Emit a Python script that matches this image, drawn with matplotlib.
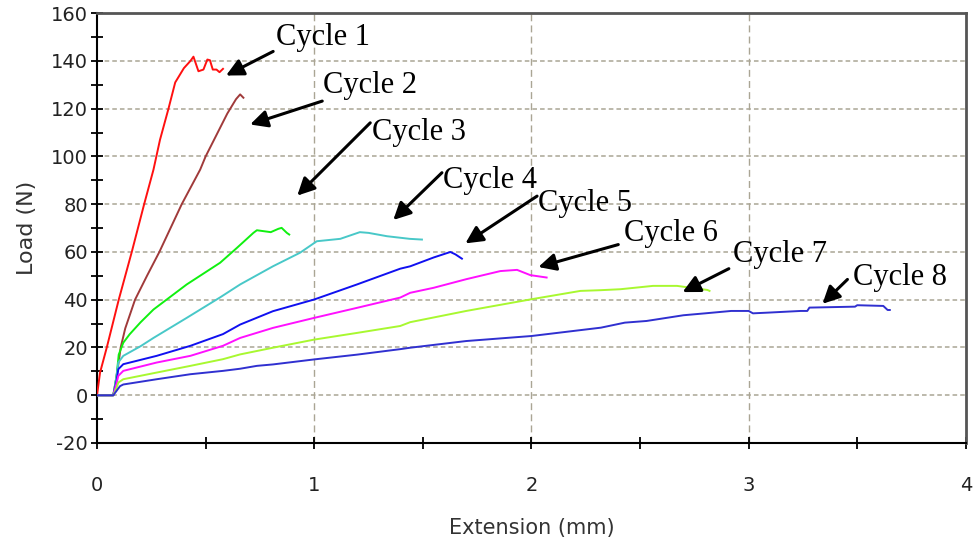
import matplotlib.pyplot as plt
from matplotlib.ticker import MultipleLocator

plt.rcParams['axes.unicode_minus'] = False

# Datos: extension (mm) y carga (N) por ciclo
c1_x = [0, 0.014, 0.045, 0.1, 0.16, 0.217, 0.26, 0.29, 0.329, 0.36, 0.40, 0.43, 0.444,
        0.467, 0.49, 0.508, 0.52, 0.533, 0.55, 0.564, 0.58]
c1_y = [0, 9.5, 20, 40, 60, 80, 94.5, 107, 120, 131, 137, 140, 141.8,
        135.7, 136.4, 140.6, 140.3, 136.4, 136.4, 135.3, 136.7]

c2_x = [0, 0.075, 0.085, 0.1, 0.109, 0.13, 0.175, 0.23, 0.287, 0.39, 0.475, 0.5, 0.6,
        0.64, 0.659, 0.674]
c2_y = [0, 0, 5, 14, 20, 28, 40, 50, 60, 80, 94.5, 100, 118, 124, 126, 124.6]

c3_x = [0, 0.075, 0.09, 0.1, 0.121, 0.15, 0.2, 0.26, 0.413, 0.567, 0.644, 0.72, 0.736,
        0.8, 0.835, 0.85, 0.874, 0.885]
c3_y = [0, 0, 8, 17, 22, 25.5, 30.5, 35.9, 46.4, 55.5, 61.7, 68, 69.1,
        68.3, 69.7, 70.1, 68, 67.3]

c4_x = [0, 0.075, 0.09, 0.098, 0.121, 0.2, 0.26, 0.413, 0.567, 0.659, 0.81, 0.935, 1.012,
        1.12, 1.21, 1.25, 1.335, 1.44, 1.496]
c4_y = [0, 0, 8, 13.7, 16.5, 20.5, 24, 32.4, 41, 46.4, 54, 59.7, 64.5,
        65.5, 68.3, 68, 66.6, 65.5, 65.2]

c5_x = [0, 0.075, 0.09, 0.098, 0.121, 0.275, 0.43, 0.58, 0.659, 0.81, 1.0, 1.197, 1.396,
        1.442, 1.55, 1.627, 1.65, 1.68]
c5_y = [0, 0, 6, 10.9, 13, 16.5, 20.7, 25.6, 29.6, 35.2, 40.1, 46.4, 53,
        54, 57.7, 60, 59, 57.2]

c6_x = [0, 0.075, 0.09, 0.098, 0.121, 0.275, 0.43, 0.58, 0.659, 0.81, 1.0, 1.197, 1.396,
        1.442, 1.55, 1.70, 1.857, 1.934, 1.995, 2.07]
c6_y = [0, 0, 5, 8.1, 10.2, 13.7, 16.5, 20.7, 24, 28.2, 32.4, 36.6, 40.9,
        42.9, 45, 48.6, 52, 52.5, 50.3, 49.3]

c7_x = [0, 0.075, 0.09, 0.098, 0.121, 0.275, 0.43, 0.58, 0.659, 0.81, 1.0, 1.197, 1.396,
        1.442, 1.70, 2.0, 2.226, 2.32, 2.41, 2.56, 2.67, 2.81, 2.82]
c7_y = [0, 0, 3, 5.3, 6.7, 9.5, 12.3, 15.1, 17.1, 19.9, 23.3, 26.1, 29,
        30.6, 35.3, 40.2, 43.7, 44, 44.4, 45.8, 45.8, 44.1, 43.7]

c8_x = [0, 0.075, 0.106, 0.121, 0.275, 0.43, 0.58, 0.659, 0.736, 0.81, 1.0, 1.197, 1.396,
        1.442, 1.70, 2.0, 2.32, 2.43, 2.53, 2.70, 2.80, 2.92, 3.0, 3.02, 3.09, 3.24,
        3.27, 3.28, 3.49, 3.5, 3.62, 3.64, 3.65]
c8_y = [0, 0, 3.8, 4.5, 6.7, 8.8, 10.2, 11.1, 12.3, 12.9, 15, 17, 19.3,
        19.9, 22.7, 24.8, 28.3, 30.4, 31.1, 33.5, 34.3, 35.3, 35.3, 34.3, 34.6, 35.3,
        35.3, 36.7, 37.1, 37.7, 37.4, 35.7, 35.7]

series_x = [c1_x, c2_x, c3_x, c4_x, c5_x, c6_x, c7_x, c8_x]
series_y = [c1_y, c2_y, c3_y, c4_y, c5_y, c6_y, c7_y, c8_y]
colors = ['#ff1010', '#a03a3a', '#10f010', '#48c8c8', '#1010f0', '#ff10ff', '#a8f830', '#3030d0']

labels = ['Cycle 1', 'Cycle 2', 'Cycle 3', 'Cycle 4', 'Cycle 5', 'Cycle 6', 'Cycle 7', 'Cycle 8']
# posicion del texto (izquierda, linea base) y punta / cola de la flecha
label_pos = [(0.825, 146.5), (1.04, 126.4), (1.267, 107.1), (1.594, 86.6),
             (2.032, 77.0), (2.424, 64.4), (2.926, 56.0), (3.479, 46.0)]
arrow_tip = [(0.594, 133.9), (0.705, 113.4), (0.922, 83.6), (1.364, 73.4),
             (1.696, 63.6), (2.032, 53.7), (2.696, 43.2), (3.34, 38.3)]
arrow_tail = [(0.811, 144.0), (1.037, 123.2), (1.258, 114.1), (1.588, 93.2),
              (2.026, 83.4), (2.40, 63.1), (2.909, 53.0), (3.455, 48.5)]

fig = plt.figure(figsize=(9.74, 5.44), dpi=100)
ax = fig.add_axes([0.0996, 0.1857, 0.892, 0.790])

ax.set_xlim(0, 4)
ax.set_ylim(-20, 160)

# rejilla
grid_col = '#aaa594'
for yv in range(0, 160, 20):
    ax.axhline(yv, color=grid_col, lw=1.1, ls=(0, (3, 2)), zorder=1)
for xv in [1, 2, 3]:
    ax.axvline(xv, color=grid_col, lw=1.0, ls=(0, (5, 3)), zorder=1)

for xs, ys, c in zip(series_x, series_y, colors):
    ax.plot(xs, ys, color=c, lw=1.4, zorder=3)

for lab, (tx, ty), tip, tail in zip(labels, label_pos, arrow_tip, arrow_tail):
    ax.text(tx, ty, lab, family='Liberation Serif', fontsize=22, ha='left', va='baseline',
            zorder=5)
    ax.annotate('', xy=tip, xytext=tail,
                arrowprops=dict(arrowstyle='-|>', color='black', lw=2.2,
                                mutation_scale=26, shrinkA=0, shrinkB=0),
                zorder=5)

ax.xaxis.set_major_locator(MultipleLocator(1))
ax.xaxis.set_minor_locator(MultipleLocator(0.5))
ax.yaxis.set_major_locator(MultipleLocator(20))
ax.yaxis.set_minor_locator(MultipleLocator(10))
ax.tick_params(which='both', direction='inout', length=9, width=1.3, color='black')
ax.tick_params(axis='y', labelsize=14, pad=2, labelcolor='#222222')
ax.tick_params(axis='x', labelsize=14, pad=19, labelcolor='#222222')

for s in ['left', 'bottom']:
    ax.spines[s].set_color('black')
    ax.spines[s].set_linewidth(1.5)
for s in ['top', 'right']:
    ax.spines[s].set_color('#555555')
    ax.spines[s].set_linewidth(2)

ax.set_xlabel('Extension (mm)', fontsize=15, color='#333333', labelpad=17)
ax.set_ylabel('Load (N)', fontsize=16, color='#333333', labelpad=10)

fig.savefig('out.png', dpi=100)
